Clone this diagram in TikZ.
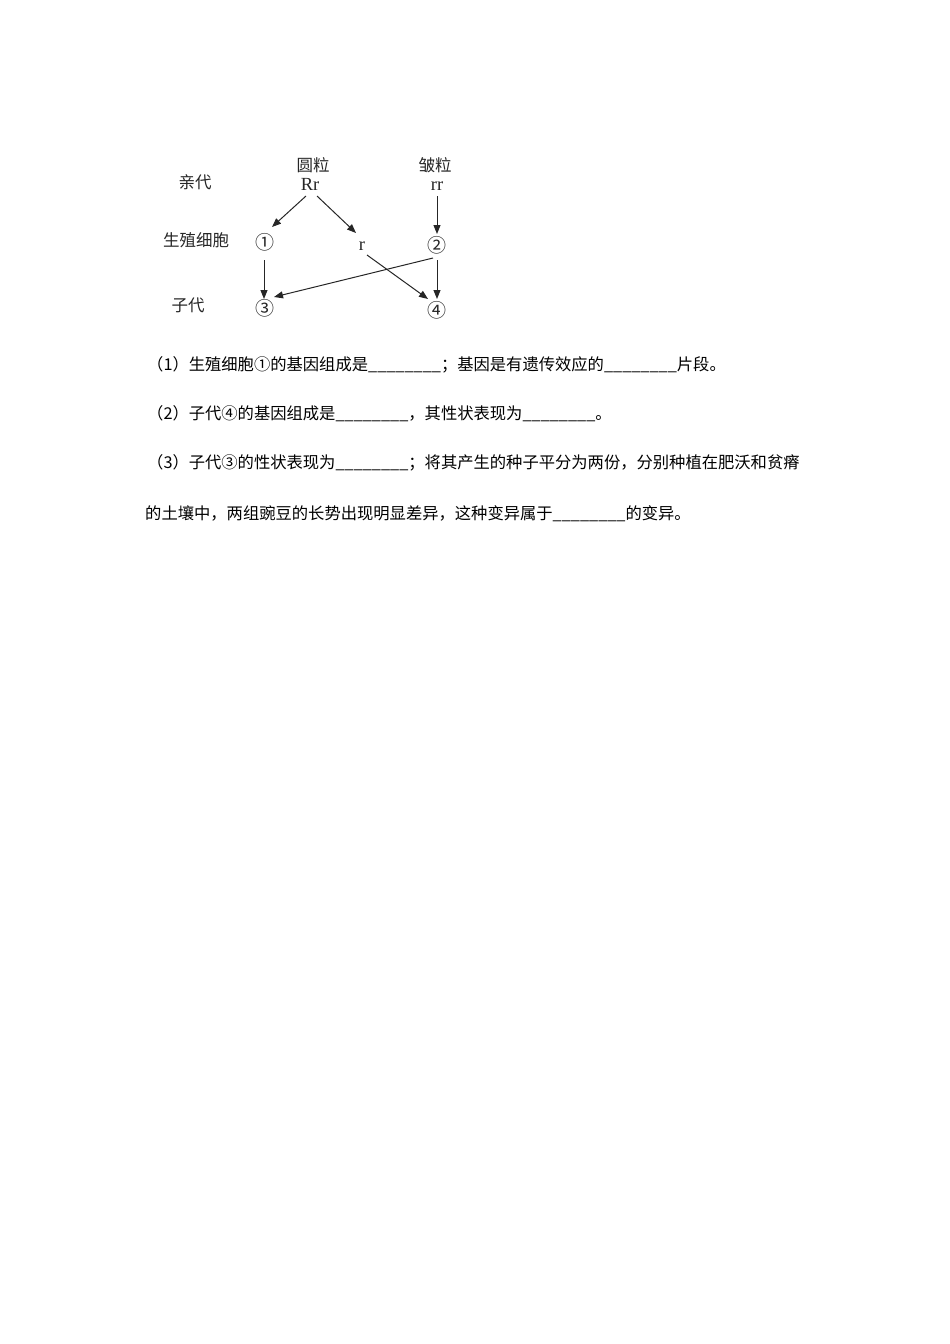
\documentclass[tikz,border=0pt]{standalone}
\usepackage{fontspec}
\setmainfont{Liberation Serif}
\newfontfamily\cjk{Noto Sans CJK SC}
\usetikzlibrary{arrows.meta}
\begin{document}
\begin{tikzpicture}[x=1pt,y=-1pt,
  lbl/.style={inner sep=0pt,font=\cjk\fontsize{16.5}{18}\selectfont,text=black!85},
  gene/.style={inner sep=0pt,font=\fontsize{18.5}{19}\selectfont,text=black!85},
  num/.style={inner sep=0pt,font=\cjk\fontsize{19}{20}\selectfont,text=black!85},
  body/.style={inner sep=0pt,anchor=west,font=\cjk\fontsize{16.3}{18}\selectfont},
  arr/.style={draw=black!85,line width=1pt,-{Triangle[length=9pt,width=7pt]}}]
\useasboundingbox (0,0) rectangle (950,1344);
% labels
\node[lbl] (qin) at (195,182) {亲代};
\node[lbl] (szxb) at (196,240) {生殖细胞};
\node[lbl] (zd) at (188,305) {子代};
\node[lbl] (yl) at (313,165) {圆粒};
\node[lbl] (zl) at (435,165) {皱粒};
\node[gene] (Rr) at (310,184) {Rr};
\node[gene] (rr) at (437,186) {rr};
\node[gene] (r) at (362,246) {r};
\node[num] (c1) at (265,242) {①};
\node[num] (c2) at (437,245) {②};
\node[num] (c3) at (265,308) {③};
\node[num] (c4) at (437,310) {④};
% arrows
\draw[arr] ([shift={(-4,12)}]Rr.center) -- ([shift={(7,-15)}]c1.center);
\draw[arr] ([shift={(7,12)}]Rr.center) -- ([shift={(-6,-13)}]r.center);
\draw[arr] ([shift={(0,10)}]rr.center) -- ([shift={(0,-11)}]c2.center);
\draw[arr] ([shift={(-1,18)}]c1.center) -- ([shift={(-1,-9)}]c3.center);
\draw[arr] ([shift={(5,9)}]r.center) -- ([shift={(-9,-11)}]c4.center);
\draw[arr] ([shift={(-4,13)}]c2.center) -- ([shift={(9,-11)}]c3.center);
\draw[arr] ([shift={(0,15)}]c2.center) -- ([shift={(0,-11)}]c4.center);
% text
\node[body] (t1) at (147,365) {（1）生殖细胞①的基因组成是\_\_\_\_\_\_\_\_；基因是有遗传效应的\_\_\_\_\_\_\_\_片段。};
\node[body] (t2) at (147,414) {（2）子代④的基因组成是\_\_\_\_\_\_\_\_，其性状表现为\_\_\_\_\_\_\_\_。};
\node[body] (t3) at (147,463) {（3）子代③的性状表现为\_\_\_\_\_\_\_\_；将其产生的种子平分为两份，分别种植在肥沃和贫瘠};
\node[body] (t4) at (145,514) {的土壤中，两组豌豆的长势出现明显差异，这种变异属于\_\_\_\_\_\_\_\_的变异。};
\end{tikzpicture}
\end{document}
